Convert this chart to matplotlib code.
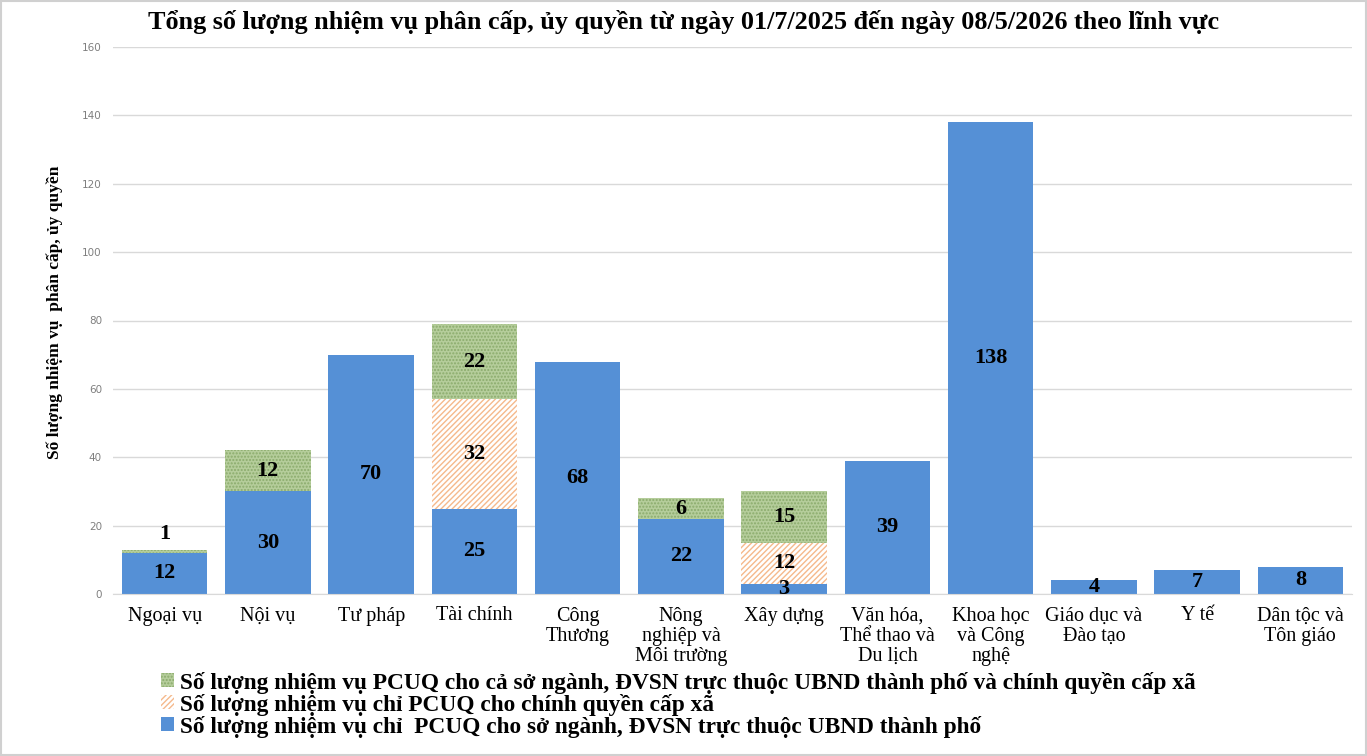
import matplotlib.pyplot as plt
import numpy as np

# data
categories = ["Ngoại vụ", "Nội vụ", "Tư pháp", "Tài chính", "Công\nThương",
              "Nông\nnghiệp và\nMôi trường", "Xây dựng", "Văn hóa,\nThể thao và\nDu lịch",
              "Khoa học\nvà Công\nnghệ", "Giáo dục và\nĐào tạo", "Y tế", "Dân tộc và\nTôn giáo"]
so_nganh = [12, 30, 70, 25, 68, 22, 3, 39, 138, 4, 7, 8]
cap_xa = [0, 0, 0, 32, 0, 0, 12, 0, 0, 0, 0, 0]
ca_hai = [1, 12, 0, 22, 0, 6, 15, 0, 0, 0, 0, 0]

lbl_blue = "Số lượng nhiệm vụ chỉ  PCUQ cho sở ngành, ĐVSN trực thuộc UBND thành phố"
lbl_orange = "Số lượng nhiệm vụ chỉ PCUQ cho chính quyền cấp xã"
lbl_green = "Số lượng nhiệm vụ PCUQ cho cả sở ngành, ĐVSN trực thuộc UBND thành phố và chính quyền cấp xã"

plt.rcParams['font.family'] = ['Liberation Serif', 'DejaVu Serif']
plt.rcParams['hatch.linewidth'] = 1.0

fig = plt.figure(figsize=(13.67, 7.56), dpi=100)
ax = fig.add_axes([113/1367, 1-594/756, 1239/1367, 547/756])

x = np.arange(len(categories))
w = 0.83
blue = np.array(so_nganh)
orange = np.array(cap_xa)
green = np.array(ca_hai)

b1 = ax.bar(x, blue, w, color='#5590d6', label=lbl_blue, zorder=2)
b2 = ax.bar(x, orange, w, bottom=blue, facecolor='white', edgecolor='#f5b98c',
            hatch='//////', linewidth=0, label=lbl_orange, zorder=2)
b3 = ax.bar(x, green, w, bottom=blue + orange, facecolor='#b5cd9b', edgecolor='#8aab6c',
            hatch='.....', linewidth=0, label=lbl_green, zorder=2)

fs = 16
for i in range(len(x)):
    ax.text(x[i], blue[i] / 2, str(blue[i]), ha='center', va='center',
            fontsize=fs, fontweight='bold', zorder=3)
    if orange[i]:
        ax.text(x[i], blue[i] + orange[i] / 2, str(orange[i]), ha='center', va='center',
                fontsize=fs, fontweight='bold', zorder=3)
    if green[i]:
        top = blue[i] + orange[i]
        if green[i] < 3:
            ax.text(x[i], top + green[i] + 4.5, str(green[i]), ha='center', va='center',
                    fontsize=fs, fontweight='bold', zorder=3)
        else:
            ax.text(x[i], top + green[i] / 2, str(green[i]), ha='center', va='center',
                    fontsize=fs, fontweight='bold', zorder=3)

ax.set_xlim(-0.5, len(x) - 0.5)
ax.set_ylim(0, 160)
ax.set_yticks(range(0, 161, 20))
ax.grid(axis='y', color='#d9d9d9', linewidth=1, zorder=0)
for s in ['top', 'right', 'left']:
    ax.spines[s].set_visible(False)
ax.spines['bottom'].set_color('#d9d9d9')
ax.tick_params(axis='y', length=0, labelsize=7.5, labelcolor='#7f7f7f', pad=8)
for t in ax.get_yticklabels():
    t.set_fontfamily('DejaVu Sans')
ax.tick_params(axis='x', length=0, labelsize=14.5, pad=9)
ax.set_xticks(x)
ax.set_xticklabels(categories, linespacing=1.08, va='top')

ax.set_ylabel("Số lượng nhiệm vụ  phân cấp, ủy quyền", fontsize=12.5, fontweight='bold')
ax.yaxis.set_label_coords(-0.040, 0.515)

fig.text(0.5, 1 - 22/756, "Tổng số lượng nhiệm vụ phân cấp, ủy quyền từ ngày 01/7/2025 đến ngày 08/5/2026 theo lĩnh vực",
         ha='center', va='center', fontsize=18.8, fontweight='bold')

fig.legend(handles=[b3, b2, b1], loc='upper left', bbox_to_anchor=(149/1367, 1 - 660/756),
           frameon=False, prop={'size': 16.8, 'weight': 'bold'}, handlelength=0.55,
           handleheight=0.55, handletextpad=0.3, labelspacing=0.0, borderpad=0)

fig.patches.append(plt.Rectangle((0.001, 0.001), 0.998, 0.998, transform=fig.transFigure,
                                 fill=False, edgecolor='#d0d0d0', linewidth=1.5))

fig.savefig("out.png", dpi=100)
